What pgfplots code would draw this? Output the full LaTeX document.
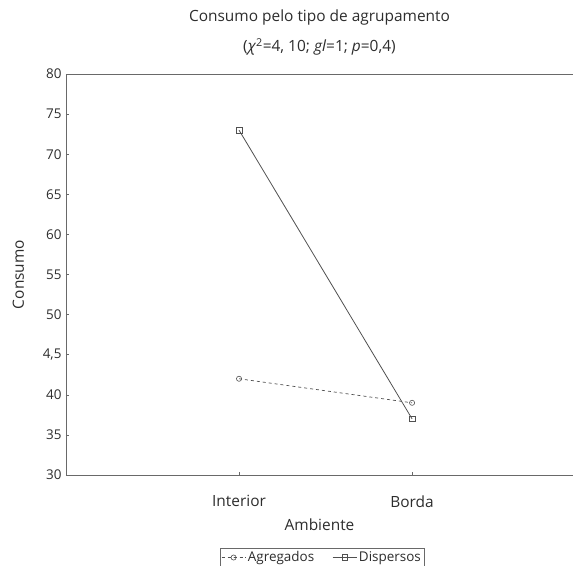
\documentclass[border=0pt]{standalone}
\usepackage{fontspec}
\setmainfont{Open Sans}
\usepackage{pgfplots}
\pgfplotsset{compat=1.18}
\definecolor{axisgray}{RGB}{105,105,105}
\definecolor{linegray}{RGB}{80,80,80}
\definecolor{textgray}{RGB}{45,45,45}
\begin{document}
\begin{tikzpicture}
\begin{axis}[
  scale only axis, width=507bp, height=401bp,
  xmin=-1, xmax=1.93, ymin=30, ymax=80,
  xtick={0,1}, xticklabels={Interior,Borda},
  ytick={30,35,40,45,50,55,60,65,70,75,80},
  yticklabels={30,35,40,{4,5},50,55,60,65,70,75,80},
  axis line style={draw=none},
  tick style={axisgray, line width=0.5pt},
  major tick length=3bp,
  tick align=inside,
  xtick pos=bottom, ytick pos=left,
  /pgf/number format/assume math mode=true,
  font=\fontsize{15.5}{17}\selectfont,
  every tick label/.append style={text=textgray},
  yticklabel style={xshift=-1bp, font=\fontsize{13.5}{15}\selectfont},
  xticklabel style={yshift=-17bp},
  xlabel={Ambiente}, ylabel={Consumo},
  xlabel style={text=textgray, yshift=-5bp},
  ylabel style={text=textgray, yshift=12bp},
  title={Consumo pelo tipo de agrupamento\\[13bp](\textit{χ}\textsuperscript{2}=4, 10; \textit{gl}=1; \textit{p}=0,4)},
  title style={text=textgray, align=center, at={(0.5,1)}, anchor=south, yshift=9bp},
  legend columns=2,
  legend style={at={(0.505,-0.182)}, anchor=north, draw=axisgray, font=\fontsize{13.5}{15}\selectfont, text=textgray, inner sep=1.5bp, /tikz/every even column/.append style={column sep=16bp}},
  legend image code/.code={\draw[mark repeat=2,mark phase=2] plot coordinates {(0bp,0bp) (12bp,0bp) (24bp,0bp)};},
]
\addplot[linegray, dashed, line width=0.7pt, mark=o, mark size=2.6pt, mark options={solid, line width=0.6pt}] coordinates {(0,42) (1,39)};
\addlegendentry{Agregados}
\addplot[linegray, line width=0.8pt, mark=square, mark size=2.8pt, mark options={solid, line width=0.6pt}] coordinates {(0,73) (1,37)};
\addlegendentry{Dispersos}
\draw[axisgray, line width=0.9pt] (rel axis cs:1,1) -- (rel axis cs:0,1) -- (rel axis cs:0,0) -- (rel axis cs:1,0);
\end{axis}
\pgfresetboundingbox
\useasboundingbox (-66bp,-91bp) rectangle (507bp,475bp);
\end{tikzpicture}
\end{document}
